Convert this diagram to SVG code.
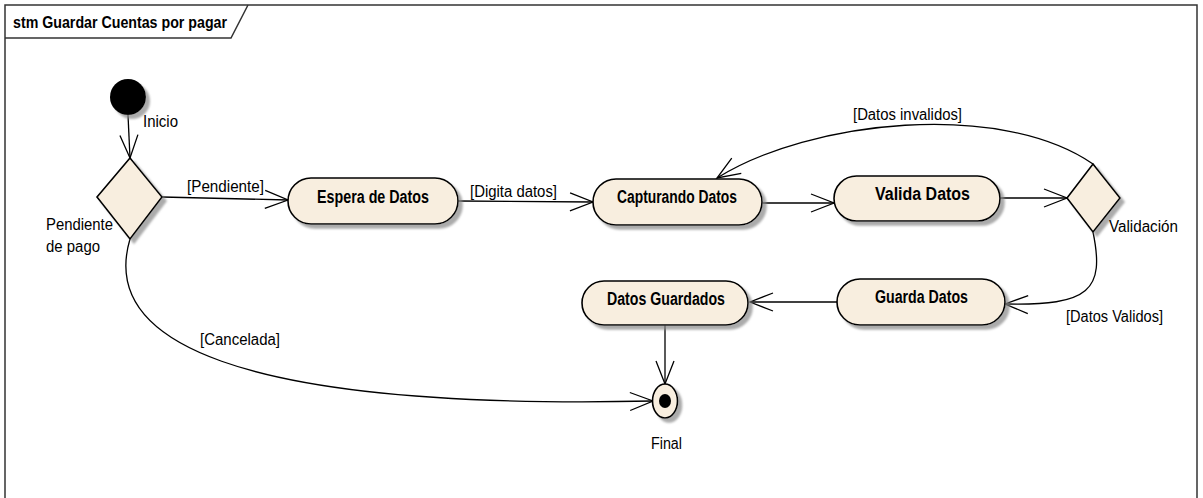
<svg xmlns="http://www.w3.org/2000/svg" width="1203" height="498" viewBox="0 0 1203 498">
  <style>
    .frame { fill: none; stroke: #333333; stroke-width: 1.5; }
    .state { fill: #F8EEDF; stroke: #000000; stroke-width: 1.6; filter: url(#shadow); }
    .choice { fill: #F8EEDF; stroke: #000000; stroke-width: 1.6; filter: url(#shadow); }
    .edge { fill: none; stroke: #000000; stroke-width: 1.3; marker-end: url(#open); }
    .title { font-family: "Liberation Sans Narrow", "Arial Narrow", "Liberation Sans", sans-serif; font-weight: bold; font-size: 16px; fill: #000; }
    .name { font-family: "Liberation Sans Narrow", "Arial Narrow", "Liberation Sans", sans-serif; font-weight: bold; font-size: 17.5px; fill: #000; }
    .lbl { font-family: "Liberation Sans Narrow", "Arial Narrow", "Liberation Sans", sans-serif; font-size: 16px; fill: #000; }
  </style>
  <defs>
    <filter id="shadow" x="-20%" y="-20%" width="150%" height="150%">
      <feDropShadow dx="4" dy="4" stdDeviation="1.2" flood-color="#888888" flood-opacity="0.7"/>
    </filter>
    <marker id="open" markerUnits="userSpaceOnUse" markerWidth="30" markerHeight="24" viewBox="-26 -12 30 24" refX="0" refY="0" orient="auto">
      <path d="M-23,-9 L0,0 L-23,9" fill="none" stroke="#000000" stroke-width="1.3"/>
    </marker>
  </defs>

  <!-- diagram frame and name tab -->
  <g id="frame">
    <path class="frame" d="M5,498 L5,5 L1197,5 L1197,498"/>
    <path class="frame" d="M5,38 L231,38 L248,5"/>
    <text class="title" x="13" y="28" textLength="214" lengthAdjust="spacingAndGlyphs">stm Guardar Cuentas por pagar</text>
  </g>

  <!-- connectors -->
  <g id="connectors">
    <path class="edge" d="M128,115 L130,158"/>
    <path class="edge" d="M162,197 L288,200"/>
    <path class="edge" d="M458,201 L593,202"/>
    <path class="edge" d="M762,203 L834,203"/>
    <path class="edge" d="M1000,198 L1067,198"/>
    <path class="edge" d="M1093,164 C1000,100 810,120 717,178"/>
    <path class="edge" d="M1093,232 C1105,290 1090,306 1005,304"/>
    <path class="edge" d="M837,302 L750,302"/>
    <path class="edge" d="M665,325 L665,384"/>
    <path class="edge" d="M130,239 C100,340 230,410 653,401"/>
    <text class="lbl" x="187" y="192" textLength="77" lengthAdjust="spacingAndGlyphs">[Pendiente]</text>
    <text class="lbl" x="470" y="197" textLength="87" lengthAdjust="spacingAndGlyphs">[Digita datos]</text>
    <text class="lbl" x="853" y="120" textLength="109" lengthAdjust="spacingAndGlyphs">[Datos invalidos]</text>
    <text class="lbl" x="1066" y="322" textLength="97" lengthAdjust="spacingAndGlyphs">[Datos Validos]</text>
    <text class="lbl" x="200" y="345" textLength="80" lengthAdjust="spacingAndGlyphs">[Cancelada]</text>
  </g>

  <!-- initial pseudostate -->
  <g id="inicio">
    <circle cx="128" cy="97" r="18" fill="#000000" filter="url(#shadow)"/>
    <text class="lbl" x="143" y="127" textLength="35" lengthAdjust="spacingAndGlyphs">Inicio</text>
  </g>

  <!-- choice: Pendiente de pago -->
  <g id="pendiente-de-pago">
    <polygon class="choice" points="130,158 162,197 130,239 97,197"/>
    <text class="lbl" x="46" y="230" textLength="67" lengthAdjust="spacingAndGlyphs">Pendiente</text>
    <text class="lbl" x="46" y="252" textLength="54" lengthAdjust="spacingAndGlyphs">de pago</text>
  </g>

  <g id="espera-de-datos">
    <rect class="state" x="288" y="178" width="170" height="46" rx="23" ry="23"/>
    <text class="name" x="317" y="203" textLength="112" lengthAdjust="spacingAndGlyphs">Espera de Datos</text>
  </g>

  <g id="capturando-datos">
    <rect class="state" x="593" y="179" width="169" height="46" rx="23" ry="23"/>
    <text class="name" x="617" y="203" textLength="120" lengthAdjust="spacingAndGlyphs">Capturando Datos</text>
  </g>

  <g id="valida-datos">
    <rect class="state" x="834" y="176" width="166" height="45" rx="22.5" ry="22.5"/>
    <text class="name" x="875" y="200" textLength="95" lengthAdjust="spacingAndGlyphs">Valida Datos</text>
  </g>

  <!-- choice: Validación -->
  <g id="validacion">
    <polygon class="choice" points="1093,164 1120,198 1093,232 1067,198"/>
    <text class="lbl" x="1109" y="232" textLength="69" lengthAdjust="spacingAndGlyphs">Validación</text>
  </g>

  <g id="guarda-datos">
    <rect class="state" x="837" y="279" width="168" height="46" rx="23" ry="23"/>
    <text class="name" x="875" y="303" textLength="93" lengthAdjust="spacingAndGlyphs">Guarda Datos</text>
  </g>

  <g id="datos-guardados">
    <rect class="state" x="582" y="281" width="166" height="44" rx="22" ry="22"/>
    <text class="name" x="607" y="305" textLength="118" lengthAdjust="spacingAndGlyphs">Datos Guardados</text>
  </g>

  <!-- final state -->
  <g id="final">
    <ellipse class="state" cx="665" cy="401" rx="12.5" ry="17"/>
    <ellipse cx="665" cy="401" rx="6" ry="7" fill="#000000"/>
    <text class="lbl" x="651" y="449" textLength="31" lengthAdjust="spacingAndGlyphs">Final</text>
  </g>
</svg>
